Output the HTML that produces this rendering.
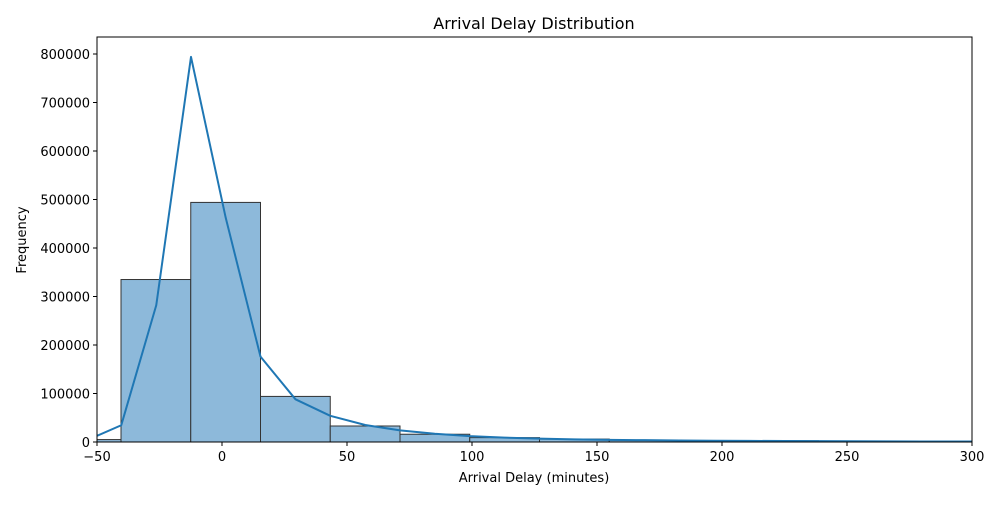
<!DOCTYPE html>
<html><head><meta charset="utf-8"><style>
body{margin:0;background:#fff;font-family:"Liberation Sans","DejaVu Sans",sans-serif}
</style></head><body>
<svg id="chart" width="1000" height="500" xmlns="http://www.w3.org/2000/svg" font-family="DejaVu Sans, Liberation Sans, sans-serif">
<rect width="1000" height="500" fill="#fff"/>
<defs><clipPath id="pc"><rect x="97" y="37" width="875" height="405"/></clipPath></defs>
<text x="534" y="29" text-anchor="middle" font-size="16">Arrival Delay Distribution</text>
<g id="bars" clip-path="url(#pc)"></g>
<g id="kde" clip-path="url(#pc)"></g>
<rect x="97" y="37" width="875" height="405" fill="none" stroke="#000" stroke-width="1"/>
<g id="axes"></g>
<text x="534" y="482" text-anchor="middle" font-size="13">Arrival Delay (minutes)</text>
<text transform="translate(26,240) rotate(-90)" text-anchor="middle" font-size="13">Frequency</text>
</svg>
<script>
const binEdges=[-68.3,-40.4,-12.5,15.4,43.3,71.2,99.1,127,154.9,182.8,210.7,238.6,266.5,294.4,322.3];
const binCounts=[5000,335000,494000,94000,33000,16000,9000,6000,4000,3000,2500,2000,1500,1200];
const kdeX=[-49.9,-40.3,-26.3,-12.4,1.5,15.4,29.4,43.3,57.3,71.2,85.1,99.1,113,127,141,155,169,183,197,211,225,239,252,266,280,294,308];
const kdeY=[13000,34500,282000,794000,462000,176000,88000,54000,35000,24000,17000,12000,9000,7000,5500,4500,3800,3200,2700,2300,2000,1700,1500,1300,1100,1000,900];
const xTicks=[-50,0,50,100,150,200,250,300];
const yTicks=[0,100000,200000,300000,400000,500000,600000,700000,800000];
const X=v=>97+(v+50)*2.5;
const Y=v=>442-v*0.000485;
const NS="http://www.w3.org/2000/svg";
function mk(t,a,p){const e=document.createElementNS(NS,t);for(const k in a)e.setAttribute(k,a[k]);p.appendChild(e);return e;}
const bars=document.getElementById('bars');
binCounts.forEach((c,i)=>{
 const r=mk('rect',{x:X(binEdges[i]),y:Y(c),width:X(binEdges[i+1])-X(binEdges[i]),height:442-Y(c),fill:'#8db9da',stroke:'#333','stroke-width':1},bars);
 
 
});
const kde=document.getElementById('kde');
const pl=mk('polyline',{points:kdeX.map((x,i)=>X(x)+','+Y(kdeY[i])).join(' '),fill:'none',stroke:'#1f77b4','stroke-width':2,'stroke-linejoin':'round'},kde);


const axes=document.getElementById('axes');
xTicks.forEach(t=>{
 mk('line',{x1:X(t),x2:X(t),y1:442,y2:446,stroke:'#000'},axes);
 const tx=mk('text',{x:X(t),y:461,'text-anchor':'middle','font-size':13},axes);
 tx.textContent=String(t).replace('-','\u2212');
 
 
});
yTicks.forEach(t=>{
 mk('line',{x1:93,x2:97,y1:Y(t),y2:Y(t),stroke:'#000'},axes);
 const tx=mk('text',{x:90,y:Y(t)+5,'text-anchor':'end','font-size':13},axes);
 tx.textContent=t;
 
 
});
</script>
</body></html>
